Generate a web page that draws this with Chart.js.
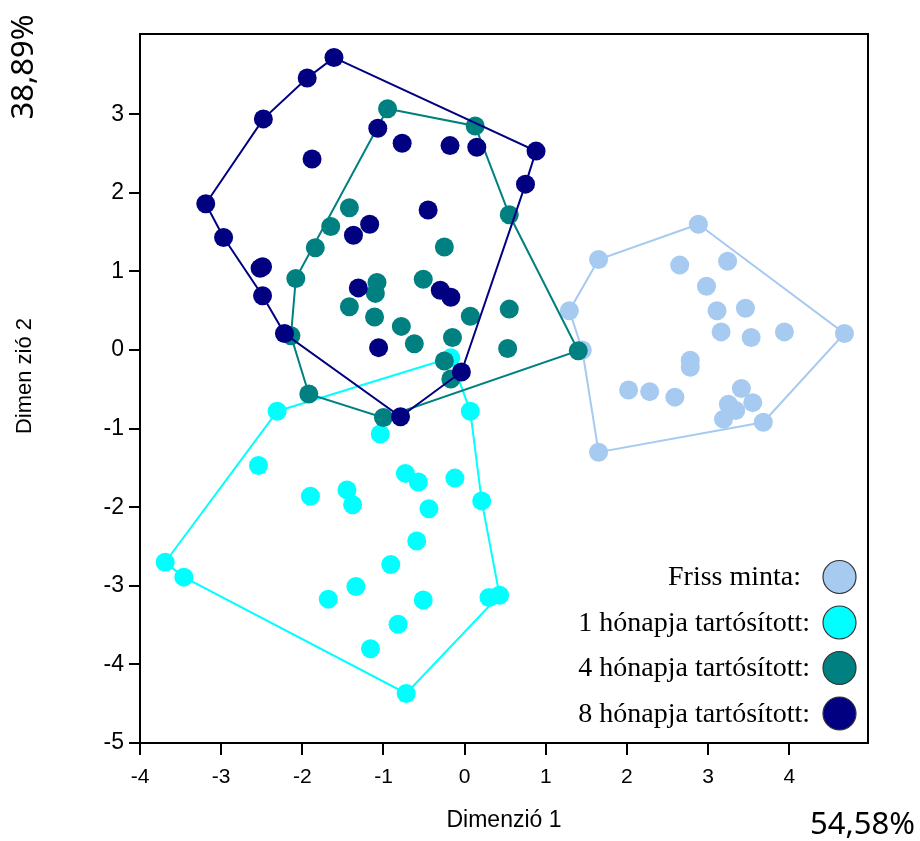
<!DOCTYPE html>
<html lang="hu">
<head>
<meta charset="utf-8">
<title>Dimenzió 1 – Dimenzió 2</title>
<script src="https://cdn.jsdelivr.net/npm/chart.js@4.4.1/dist/chart.umd.min.js"></script>
<style>
  html, body { margin: 0; padding: 0; background: #fff; }
  #wrap { width: 920px; height: 841px; position: relative; }
</style>
</head>
<body>
<div id="wrap"><canvas id="terkep"></canvas></div>
<script>
"use strict";

// Csoportok: felirat és szín
const groupLabels = ["Friss minta:", "1 hónapja tartósított:", "4 hónapja tartósított:", "8 hónapja tartósított:"];
const groupColors = ["#A6CAF0", "#00FFFF", "#008080", "#000080"];

// Tengelyek feliratai, megmagyarázott variancia
const axisTitles = ["Dimenzió 1", "Dimen zió 2"];
const explained = ["54,58%", "38,89%"];

// Friss minta: burok csúcsai (sorrendben) + belső pontok
const frissHull = [[2.88, 1.60], [1.65, 1.15], [1.29, 0.50], [1.45, 0.00], [1.65, -1.30], [3.68, -0.92], [4.68, 0.21]];
const frissInner = [[2.65, 1.08], [3.24, 1.13], [2.98, 0.81], [3.11, 0.50], [3.46, 0.53], [3.16, 0.23], [3.53, 0.16],
  [3.94, 0.23], [2.78, -0.13], [2.78, -0.22], [2.02, -0.51], [2.28, -0.53], [2.59, -0.60], [3.41, -0.49],
  [3.55, -0.67], [3.25, -0.69], [3.34, -0.77], [3.19, -0.88]];

// 1 hónapja tartósított
const egyHull = [[-2.31, -0.78], [-3.69, -2.70], [-3.46, -2.89], [-0.72, -4.37], [0.43, -3.12], [0.21, -1.92], [0.07, -0.78], [-0.17, -0.10]];
const egyInner = [[0.30, -3.15], [-1.04, -1.07], [-2.54, -1.47], [-1.90, -1.86], [-1.45, -1.78], [-1.38, -1.97],
  [-0.73, -1.57], [-0.57, -1.68], [-0.12, -1.63], [-0.44, -2.02], [-0.59, -2.43], [-0.91, -2.73], [-1.34, -3.01],
  [-1.68, -3.17], [-0.51, -3.18], [-0.82, -3.49], [-1.16, -3.80]];

// 4 hónapja tartósított
const negyHull = [[-0.95, 3.07], [-2.08, 0.91], [-2.14, 0.18], [-1.92, -0.56], [-1.00, -0.86], [1.40, -0.01], [0.55, 1.72], [0.13, 2.85]];
const negyInner = [[-1.84, 1.30], [-1.65, 1.57], [-1.42, 1.81], [-0.25, 1.31], [-1.08, 0.86], [-1.10, 0.72], [-1.42, 0.55],
  [-1.11, 0.42], [-0.51, 0.90], [0.07, 0.43], [0.55, 0.52], [0.53, 0.02], [-0.78, 0.30], [-0.62, 0.08],
  [-0.15, 0.16], [-0.25, -0.14], [-0.17, -0.37]];

// 8 hónapja tartósított
const nyolcHull = [[-1.61, 3.72], [-1.94, 3.46], [-2.48, 2.94], [-3.19, 1.86], [-2.97, 1.43], [-2.49, 0.69], [-2.22, 0.21],
  [-0.79, -0.85], [-0.04, -0.28], [0.75, 2.11], [0.88, 2.53]];
const nyolcInner = [[-2.52, 1.04], [-2.49, 1.06], [0.15, 2.58], [-0.18, 2.60], [-0.77, 2.63], [-1.07, 2.82], [-1.88, 2.43],
  [-0.45, 1.78], [-1.17, 1.60], [-1.37, 1.46], [-1.31, 0.79], [-0.30, 0.76], [-0.17, 0.67], [-1.06, 0.03]];

// tengelyek osztásai
const xTicks = [-4, -3, -2, -1, 0, 1, 2, 3, 4];
const yTicks = [-5, -4, -3, -2, -1, 0, 1, 2, 3];

const hulls = [frissHull, egyHull, negyHull, nyolcHull];
const inners = [frissInner, egyInner, negyInner, nyolcInner];

const toXY = p => ({ x: p[0], y: p[1] });

// minden csoporthoz egy zárt burokvonal és a pontok
const datasets = [];
groupLabels.forEach((label, i) => {
  const order = groupLabels.length - i;
  datasets.push({
    label: label + " burok",
    data: hulls[i].concat([hulls[i][0]]).map(toXY),
    showLine: true,
    borderColor: groupColors[i],
    borderWidth: 2,
    pointRadius: 0,
    fill: false,
    tension: 0,
    order: order + 0.5
  });
  datasets.push({
    label: label,
    data: hulls[i].concat(inners[i]).map(toXY),
    backgroundColor: groupColors[i],
    borderWidth: 0,
    pointRadius: 9.5,
    pointHoverRadius: 9.5,
    order: order
  });
});

// keret, tengelycímek, százalékok és a jelmagyarázat
const feliratok = {
  id: "feliratok",
  afterDraw(chart) {
    const { ctx, chartArea: a } = chart;
    ctx.save();
    ctx.strokeStyle = "#000";
    ctx.lineWidth = 2;
    ctx.strokeRect(a.left, a.top, a.right - a.left, a.bottom - a.top);

    ctx.fillStyle = "#000";
    ctx.textBaseline = "alphabetic";

    ctx.font = "23px 'Liberation Sans', Arial, sans-serif";
    ctx.textAlign = "center";
    ctx.fillText(axisTitles[0], (a.left + a.right) / 2, 827);
    ctx.save();
    ctx.translate(31, 376);
    ctx.rotate(-Math.PI / 2);
    ctx.font = "22px 'Liberation Sans', Arial, sans-serif";
    ctx.fillText(axisTitles[1], 0, 0);
    ctx.restore();

    ctx.font = "31px 'Noto Sans', 'Open Sans', sans-serif";
    ctx.textAlign = "right";
    ctx.fillText(explained[0], 915, 834);
    ctx.save();
    ctx.translate(33, 67);
    ctx.rotate(-Math.PI / 2);
    ctx.textAlign = "center";
    ctx.fillText(explained[1], 0, 0);
    ctx.restore();

    ctx.font = "28px 'Liberation Serif', 'Times New Roman', serif";
    ctx.textAlign = "right";
    groupLabels.forEach((label, i) => {
      const y = 577 + i * 45.5;
      ctx.fillStyle = "#000";
      ctx.fillText(label, i === 0 ? 801 : 810, y + 8);
      ctx.beginPath();
      ctx.arc(839.5, y, 16.5, 0, Math.PI * 2);
      ctx.fillStyle = groupColors[i];
      ctx.fill();
      ctx.lineWidth = 1.2;
      ctx.strokeStyle = "#333";
      ctx.stroke();
    });
    ctx.restore();
  }
};

const tickFont = size => ({ family: "'Liberation Sans', Arial, sans-serif", size: size });
const useTicks = list => scale => { scale.ticks = list.map(v => ({ value: v })); };

new Chart(document.getElementById("terkep"), {
  type: "scatter",
  data: { datasets: datasets },
  options: {
    responsive: true,
    maintainAspectRatio: false,
    animation: false,
    events: [],
    layout: { padding: { top: 34, right: 52, left: 0, bottom: 0 } },
    plugins: {
      legend: { display: false },
      tooltip: { enabled: false }
    },
    scales: {
      x: {
        min: -4,
        max: 4.97,
        afterBuildTicks: useTicks(xTicks),
        afterFit: scale => { scale.height = 98; },
        border: { display: false },
        grid: { drawOnChartArea: false, drawTicks: true, tickLength: 12, color: "#000", lineWidth: 2 },
        ticks: { color: "#000", padding: 10, font: tickFont(21), maxRotation: 0 }
      },
      y: {
        min: -5,
        max: 4.02,
        afterBuildTicks: useTicks(yTicks),
        afterFit: scale => { scale.width = 140; },
        border: { display: false },
        grid: { drawOnChartArea: false, drawTicks: true, tickLength: 11, color: "#000", lineWidth: 2 },
        ticks: { color: "#000", padding: 5, font: tickFont(23) }
      }
    }
  },
  plugins: [feliratok]
});
</script>
</body>
</html>
